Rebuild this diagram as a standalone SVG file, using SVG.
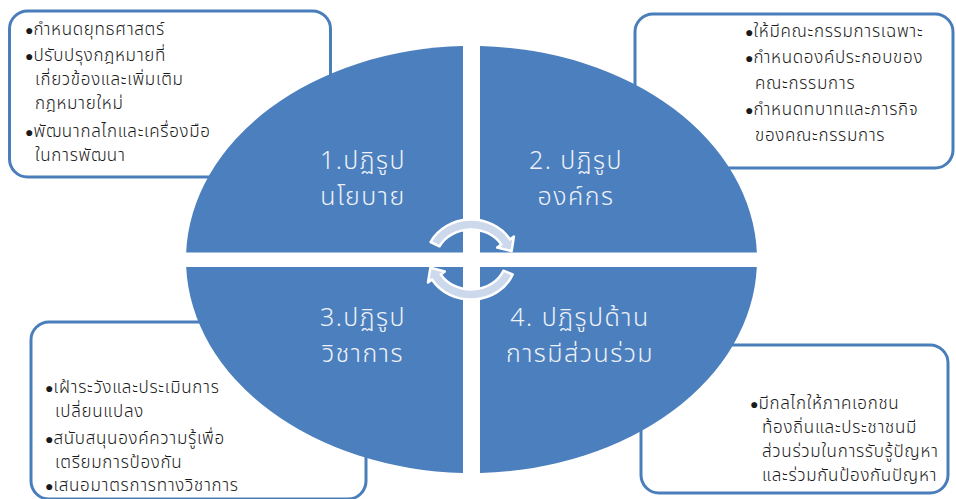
<svg xmlns="http://www.w3.org/2000/svg" width="956" height="499" viewBox="0 0 956 499">
<style>
.box{fill:#ffffff;stroke:#4a7ebb;stroke-width:3}
.quad{fill:#4b7fbd}
.qt{font-family:"Noto Sans Thai","Tahoma","DejaVu Sans","Noto Sans",sans-serif;font-size:25px;font-weight:300;letter-spacing:1.5px;fill:#eef2f8;text-anchor:middle}
.bt{font-family:"Noto Sans Thai","Tahoma","DejaVu Sans","Noto Sans",sans-serif;font-size:17px;font-weight:300;letter-spacing:0.7px;fill:#1a1a1a}
.bul{font-family:"DejaVu Sans",sans-serif;font-size:14px;letter-spacing:0}
.arrow{fill:#ccd8eb;stroke:#ffffff;stroke-width:2.5;stroke-linejoin:round}
</style>
<rect width="956" height="499" fill="#ffffff"/>

<g id="box1">
<rect class="box" x="9.5" y="11" width="321" height="166" rx="18"/>
<text class="bt" x="25" y="35"><tspan class="bul">●</tspan>กำหนดยุทธศาสตร์</text>
<text class="bt" x="25" y="61"><tspan class="bul">●</tspan>ปรับปรุงกฎหมายที่</text>
<text class="bt" x="35" y="85">เกี่ยวข้องและเพิ่มเติม</text>
<text class="bt" x="35" y="109">กฎหมายใหม่</text>
<text class="bt" x="25" y="137"><tspan class="bul">●</tspan>พัฒนากลไกและเครื่องมือ</text>
<text class="bt" x="35" y="161">ในการพัฒนา</text>
</g>

<g id="box2">
<rect class="box" x="635" y="14" width="318" height="154" rx="18"/>
<text class="bt" x="745" y="37"><tspan class="bul">●</tspan>ให้มีคณะกรรมการเฉพาะ</text>
<text class="bt" x="745" y="63"><tspan class="bul">●</tspan>กำหนดองค์ประกอบของ</text>
<text class="bt" x="755" y="89">คณะกรรมการ</text>
<text class="bt" x="745" y="115"><tspan class="bul">●</tspan>กำหนดทบาทและภารกิจ</text>
<text class="bt" x="755" y="141">ของคณะกรรมการ</text>
</g>

<g id="box3">
<rect class="box" x="31" y="322" width="335" height="177" rx="18"/>
<text class="bt" x="45" y="393"><tspan class="bul">●</tspan>เฝ้าระวังและประเมินการ</text>
<text class="bt" x="55" y="417">เปลี่ยนแปลง</text>
<text class="bt" x="45" y="444"><tspan class="bul">●</tspan>สนับสนุนองค์ความรู้เพื่อ</text>
<text class="bt" x="55" y="468">เตรียมการป้องกัน</text>
<text class="bt" x="45" y="491"><tspan class="bul">●</tspan>เสนอมาตรการทางวิชาการ</text>
</g>

<g id="box4">
<rect class="box" x="641" y="345" width="307" height="148" rx="18"/>
<text class="bt" x="750" y="409"><tspan class="bul">●</tspan>มีกลไกให้ภาคเอกชน</text>
<text class="bt" x="762" y="433">ท้องถิ่นและประชาชนมี</text>
<text class="bt" x="762" y="457">ส่วนร่วมในการรับรู้ปัญหา</text>
<text class="bt" x="762" y="481">และร่วมกันป้องกันปัญหา</text>
</g>

<g id="q1">
<path class="quad" d="M463 46.1 A285.5 213.5 0 0 0 186.15 252.5 L463 252.5 Z"/>
<text class="qt" x="363" y="169">1.ปฏิรูป</text>
<text class="qt" x="363" y="205">นโยบาย</text>
</g>
<g id="q2">
<path class="quad" d="M480 46.1 A285.5 213.5 0 0 1 756.85 252.5 L480 252.5 Z"/>
<text class="qt" x="576" y="169">2. ปฏิรูป</text>
<text class="qt" x="576" y="205">องค์กร</text>
</g>
<g id="q3">
<path class="quad" d="M186.18 267 A285.5 213.5 0 0 0 463 472.9 L463 267 Z"/>
<text class="qt" x="363" y="326">3.ปฏิรูป</text>
<text class="qt" x="363" y="362">วิชาการ</text>
</g>
<g id="q4">
<path class="quad" d="M480 472.9 A285.5 213.5 0 0 0 756.82 267 L480 267 Z"/>
<text class="qt" x="580" y="326">4. ปฏิรูปด้าน</text>
<text class="qt" x="580" y="362">การมีส่วนร่วม</text>
</g>

<g id="connectors">
<path class="arrow" d="M430.6 242 A45 40 0 0 1 510 239.5 L513.9 236.5 L511.6 251.2 L497.2 247.5 L501.3 244.5 A35 30 0 0 0 439.5 246.3 Z"/>
<path class="arrow" d="M512.7 274.5 A45 40 0 0 1 432 279.5 L428 282.5 L430.4 267.8 L444.8 271.5 L440.7 274.5 A35 30 0 0 0 503.4 270.7 Z"/>
</g>
</svg>
